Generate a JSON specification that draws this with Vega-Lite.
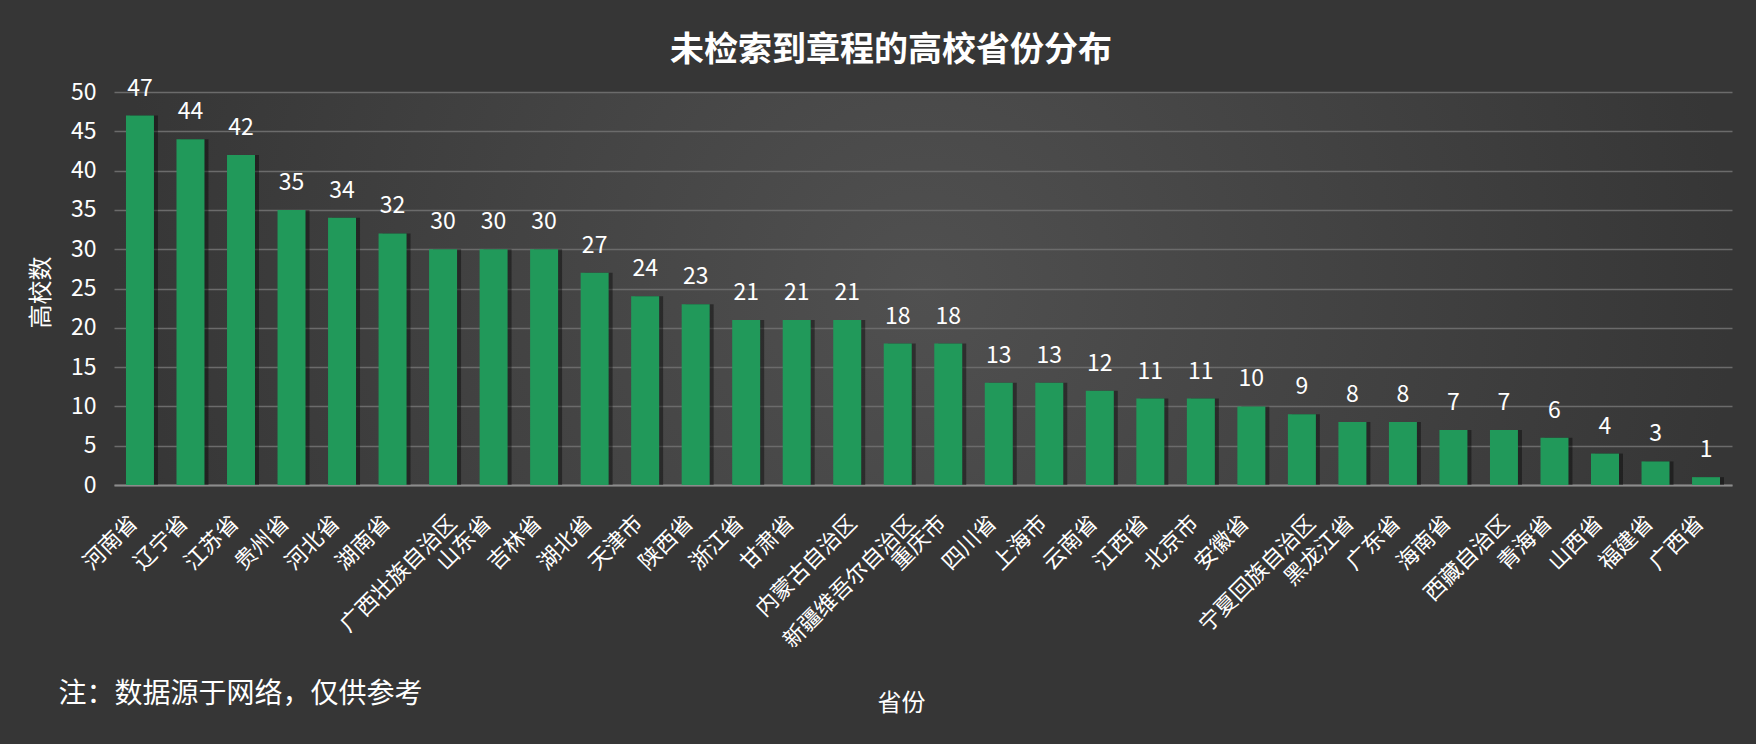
{
  "$schema": "https://vega.github.io/schema/vega-lite/v6.json",
  "width": 1618,
  "height": 393,
  "autosize": {"type": "none"},
  "padding": {"left": 114, "top": 92, "right": 24, "bottom": 259},
  "background": "#363636",
  "config": {
    "font": "Noto Sans CJK SC",
    "view": {
      "stroke": null,
      "fill": {
        "gradient": "radial",
        "x1": 0.5, "y1": 0.5, "r1": 0,
        "x2": 0.5, "y2": 0.5, "r2": 0.5,
        "stops": [
          {"offset": 0, "color": "#505050"},
          {"offset": 1, "color": "#363636"}
        ]
      }
    }
  },
  "title": {
    "text": "未检索到章程的高校省份分布",
    "fontSize": 34,
    "fontWeight": "bold",
    "color": "#ffffff",
    "anchor": "middle",
    "frame": "group",
    "dx": -32,
    "offset": 10
  },
  "data": {
    "values": [
      {"province": "河南省", "count": 47},
      {"province": "辽宁省", "count": 44},
      {"province": "江苏省", "count": 42},
      {"province": "贵州省", "count": 35},
      {"province": "河北省", "count": 34},
      {"province": "湖南省", "count": 32},
      {"province": "广西壮族自治区", "count": 30},
      {"province": "山东省", "count": 30},
      {"province": "吉林省", "count": 30},
      {"province": "湖北省", "count": 27},
      {"province": "天津市", "count": 24},
      {"province": "陕西省", "count": 23},
      {"province": "浙江省", "count": 21},
      {"province": "甘肃省", "count": 21},
      {"province": "内蒙古自治区", "count": 21},
      {"province": "新疆维吾尔自治区", "count": 18},
      {"province": "重庆市", "count": 18},
      {"province": "四川省", "count": 13},
      {"province": "上海市", "count": 13},
      {"province": "云南省", "count": 12},
      {"province": "江西省", "count": 11},
      {"province": "北京市", "count": 11},
      {"province": "安徽省", "count": 10},
      {"province": "宁夏回族自治区", "count": 9},
      {"province": "黑龙江省", "count": 8},
      {"province": "广东省", "count": 8},
      {"province": "海南省", "count": 7},
      {"province": "西藏自治区", "count": 7},
      {"province": "青海省", "count": 6},
      {"province": "山西省", "count": 4},
      {"province": "福建省", "count": 3},
      {"province": "广西省", "count": 1}
    ]
  },
  "encoding": {
    "y": {
      "field": "count",
      "type": "quantitative",
      "scale": {"domain": [0, 50], "nice": false},
      "axis": {
        "values": [0, 5, 10, 15, 20, 25, 30, 35, 40, 45, 50],
        "domain": false,
        "ticks": false,
        "tickSize": 0,
        "grid": true,
        "gridColor": "#6b6b6b",
        "gridWidth": 1.5,
        "labelFontSize": 23,
        "labelColor": "#ffffff",
        "labelPadding": 18,
        "title": "高校数",
        "titleX": -73,
        "titleY": 200,
        "titleBaseline": "middle",
        "titleFontSize": 24,
        "titleFontWeight": "normal",
        "titleColor": "#ffffff"
      }
    }
  },
  "layer": [
    {
      "encoding": {
        "x": {
          "field": "province",
          "type": "nominal",
          "sort": null,
          "scale": {"paddingInner": 0.446, "paddingOuter": 0.237},
          "axis": {
            "labelAngle": -45,
            "labelAlign": "right",
            "labelBaseline": "middle",
            "labelPadding": 34,
            "labelOffset": {"expr": "4 * length(datum.label) - 18"},
            "ticks": false,
            "tickSize": 0,
            "domain": true,
            "domainColor": "#8c8c8c",
            "domainWidth": 2,
            "grid": false,
            "labelFontSize": 22,
            "labelColor": "#ffffff",
            "labelLimit": 400,
            "title": "省份",
            "titleX": 787,
            "titleY": 218,
            "titleBaseline": "middle",
            "titleFontSize": 24,
            "titleFontWeight": "normal",
            "titleColor": "#ffffff"
          }
        }
      },
      "layer": [
        {
          "mark": {"type": "bar", "color": "#000000", "opacity": 0.4, "xOffset": 4}
        },
        {
          "mark": {"type": "bar", "color": "#21995A"}
        }
      ]
    },
    {
      "mark": {
        "type": "text",
        "fontSize": 23,
        "color": "#ffffff",
        "baseline": "alphabetic",
        "dy": -20
      },
      "encoding": {
        "x": {
          "field": "province",
          "type": "nominal",
          "sort": null,
          "axis": {
            "orient": "top",
            "labels": false,
            "ticks": false,
            "domain": false,
            "grid": false,
            "title": "注：数据源于网络，仅供参考",
            "titleX": -56,
            "titleY": 602,
            "titleAlign": "left",
            "titleBaseline": "middle",
            "titleAngle": 0,
            "titleFontSize": 28,
            "titleFontWeight": "normal",
            "titleColor": "#ffffff"
          }
        },
        "text": {"field": "count", "type": "quantitative"}
      }
    }
  ],
  "resolve": {"axis": {"x": "independent"}}
}
